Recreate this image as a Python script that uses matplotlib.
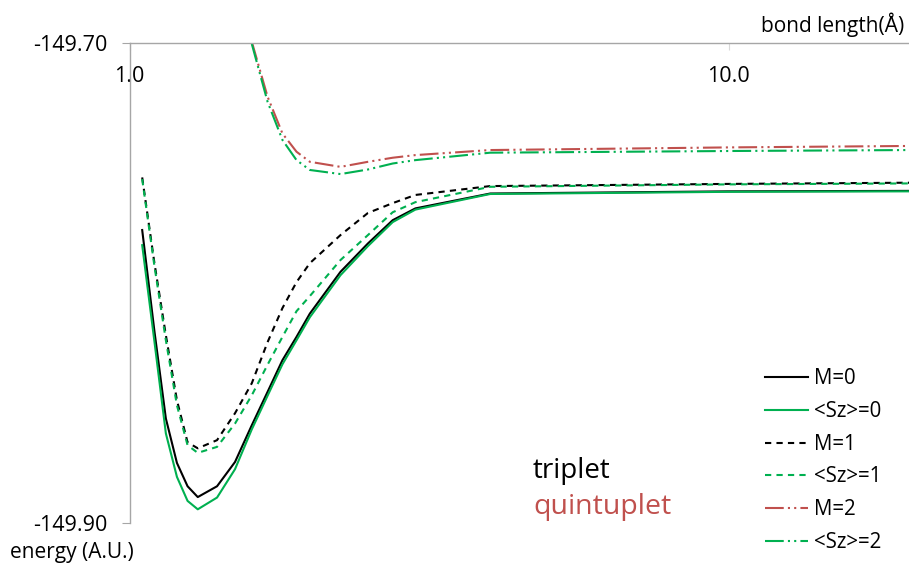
import matplotlib
matplotlib.use('Agg')
import matplotlib.pyplot as plt
from matplotlib.ticker import FixedLocator, NullLocator

plt.rcParams['font.family'] = ['Open Sans', 'DejaVu Sans']

# bond length (angstrom)
r_low = [1.05, 1.10, 1.15, 1.20, 1.25, 1.30, 1.40, 1.50, 1.60, 1.70, 1.80,
         1.90, 2.00, 2.25, 2.50, 2.75, 3.00, 4.00, 10.0, 20.0]
r_high = [1.60, 1.70, 1.80, 1.90, 2.00, 2.25, 2.50, 2.75, 3.00, 4.00, 10.0, 20.0]

# triplet
e_m0 = [-149.7780, -149.8197, -149.8565, -149.8750, -149.8847, -149.8892, -149.8847,
        -149.8746, -149.8593, -149.8454, -149.8322, -149.8225, -149.8128, -149.7954,
        -149.7836, -149.7739, -149.7690, -149.7628, -149.7619, -149.7617]
e_sz0 = [-149.7843, -149.8240, -149.8627, -149.8808, -149.8908, -149.8943, -149.8894,
         -149.8776, -149.8610, -149.8470, -149.8339, -149.8239, -149.8143, -149.7968,
         -149.7847, -149.7747, -149.7695, -149.7630, -149.7621, -149.7619]
e_m1 = [-149.7561, -149.7914, -149.8218, -149.8489, -149.8664, -149.8689, -149.8655,
        -149.8543, -149.8418, -149.8247, -149.8105, -149.7997, -149.7918, -149.7801,
        -149.7709, -149.7668, -149.7634, -149.7597, -149.7588, -149.7583]
e_sz1 = [-149.7568, -149.7926, -149.8239, -149.8510, -149.8676, -149.8708, -149.8683,
         -149.8586, -149.8468, -149.8341, -149.8225, -149.8118, -149.8055, -149.7905,
         -149.7801, -149.7706, -149.7664, -149.7600, -149.7590, -149.7586]
# quintuplet
e_m2 = [-149.6996, -149.7225, -149.7378, -149.7454, -149.7496, -149.7517, -149.7496,
        -149.7479, -149.7468, -149.7447, -149.7436, -149.7430]
e_sz2 = [-149.7005, -149.7246, -149.7405, -149.7489, -149.7530, -149.7547, -149.7528,
         -149.7503, -149.7489, -149.7458, -149.7451, -149.7447]

green = '#00b050'
red = '#c0504d'
axis_gray = '#a6a6a6'
dash = (0, (3, 2.5))
dashdotdot = (0, (9, 2, 1, 2, 1, 2))

fig = plt.figure(figsize=(9.09, 5.69), dpi=100)
ax = fig.add_axes([129.5 / 909, 46 / 569, 1 - 129.5 / 909, (523 - 42.7) / 569])

ax.plot(r_low, e_m0, color='black', lw=1.5, label='M=0')
ax.plot(r_low, e_sz0, color=green, lw=1.5, label='<Sz>=0')
ax.plot(r_low, e_m1, color='black', lw=1.5, linestyle=dash, label='M=1')
ax.plot(r_low, e_sz1, color=green, lw=1.5, linestyle=dash, label='<Sz>=1')
ax.plot(r_high, e_m2, color=red, lw=1.5, linestyle=dashdotdot, label='M=2')
ax.plot(r_high, e_sz2, color=green, lw=1.5, linestyle=dashdotdot, label='<Sz>=2')

ax.set_xscale('log')
ax.set_xlim(1, 20)
ax.set_ylim(-149.90, -149.70)
ax.xaxis.set_major_locator(FixedLocator([1, 10]))
ax.xaxis.set_minor_locator(NullLocator())
ax.set_xticklabels(['1.0', '10.0'])
ax.set_yticks([-149.90, -149.70])
ax.set_yticklabels(['-149.90', '-149.70'])

for side in ['bottom', 'right']:
    ax.spines[side].set_visible(False)
for side in ['top', 'left']:
    ax.spines[side].set_color(axis_gray)
    ax.spines[side].set_linewidth(1)

ax.xaxis.tick_top()
ax.tick_params(axis='x', direction='in', length=5, color='#d9d9d9',
               labelsize=15.5, pad=-32)
ax.tick_params(axis='y', direction='out', length=5.5, color=axis_gray,
               labelsize=15.5, pad=10)

fig.text(904 / 909, 1 - 32 / 569, 'bond length(Å)', fontsize=15,
         ha='right', va='baseline')
fig.text(10 / 909, 1 - 558 / 569, 'energy (A.U.)', fontsize=15,
         ha='left', va='baseline')
fig.text(533 / 909, 1 - 478 / 569, 'triplet', fontsize=20,
         ha='left', va='baseline', color='black')
fig.text(533 / 909, 1 - 514 / 569, 'quintuplet', fontsize=20.5,
         ha='left', va='baseline', color=red)

fig.legend(loc='upper left', bbox_to_anchor=(755 / 909, 1 - 358 / 569),
           frameon=False, fontsize=14.8, borderpad=0, handlelength=2.1,
           handletextpad=0.25, labelspacing=0.57)

fig.savefig('out.png', dpi=100)
